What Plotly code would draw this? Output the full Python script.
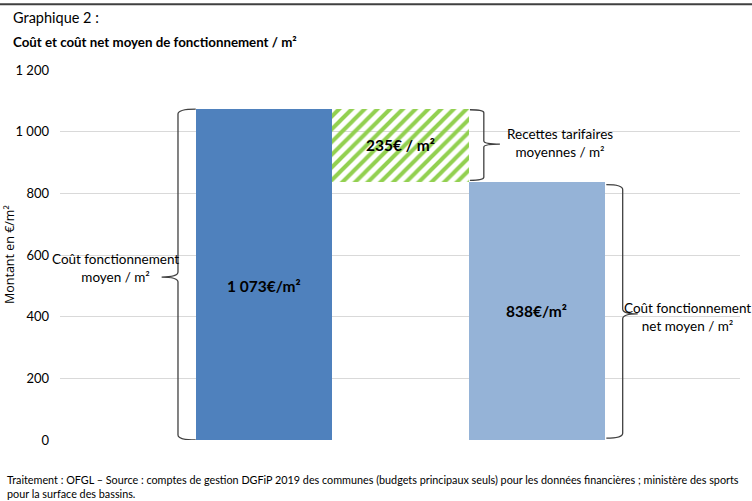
import plotly.graph_objects as go

# ---- data ----
categories = ["Coût fonctionnement moyen", "Recettes tarifaires moyennes", "Coût fonctionnement net moyen"]
values = [1073, 235, 838]
bases = [0, 838, 0]
bar_labels = ["1 073€/m²", "235€ / m²", "838€/m²"]
label_y = [500, 838 + 235 / 2, 838 / 2]
brace_texts = ["Coût fonctionnement<br>moyen / m²",
               "Recettes tarifaires<br>moyennes / m²",
               "Coût fonctionnement<br>net moyen / m²"]
tick_vals = [0, 200, 400, 600, 800, 1000, 1200]
tick_text = ["0", "200", "400", "600", "800", "1 000", "1 200"]

FONT = "Lato, 'Open Sans', sans-serif"
xpos = list(range(len(categories)))

fig = go.Figure()
fig.add_trace(go.Bar(
    x=xpos, y=values, base=bases, width=1,
    marker=dict(
        color=["#4F81BD", "#92D050", "#95B3D7"],
        line=dict(width=0),
        pattern=dict(shape=["", "/", ""], bgcolor="#FFFFFF",
                     size=9, solidity=0.45, fillmode="replace"),
    ),
    hoverinfo="skip", showlegend=False,
))

# bar value labels
for i in range(len(values)):
    fig.add_annotation(x=xpos[i], y=label_y[i], text="<b>" + bar_labels[i] + "</b>",
                       showarrow=False, font=dict(family=FONT, size=15.5, color="#000"))


def brace(xv, xe, xt, y0, y1, ymid, r=16):
    """curly brace: vertical at xv, ends curl to xe, tip at xt"""
    return (f"M {xe},{y1} Q {xv},{y1} {xv},{y1 - r} L {xv},{ymid + r} "
            f"Q {xv},{ymid} {xt},{ymid} Q {xv},{ymid} {xv},{ymid - r} "
            f"L {xv},{y0 + r} Q {xv},{y0} {xe},{y0}")


brace_line = dict(color="#404040", width=1.3)
# left brace on first bar
top0 = bases[0] + values[0]
fig.add_shape(type="path", xref="x", yref="y", line=brace_line,
              path=brace(-0.63, -0.5, -0.75, bases[0], top0, top0 / 2 - 8))
# brace on hatched bar
top1 = bases[1] + values[1]
fig.add_shape(type="path", xref="x", yref="y", line=brace_line,
              path=brace(1.612, 1.51, 1.73, bases[1] + 4, top1 - 2, (bases[1] + top1) / 2 + 4, r=10))
# brace on third bar
top2 = bases[2] + values[2]
fig.add_shape(type="path", xref="x", yref="y", line=brace_line,
              path=brace(2.63, 2.51, 2.74, bases[2] + 6, top2 - 10, top2 / 2 - 10))

# brace texts
fig.add_annotation(x=-1.09, y=top0 / 2 + 20, text=brace_texts[0], showarrow=False,
                   font=dict(family=FONT, size=13.5, color="#000"), align="center")
fig.add_annotation(x=2.17, y=(bases[1] + top1) / 2 + 8, text=brace_texts[1], showarrow=False,
                   font=dict(family=FONT, size=13.5, color="#000"), align="center")
fig.add_annotation(x=3.108, y=top2 / 2 - 20, text=brace_texts[2], showarrow=False,
                   font=dict(family=FONT, size=13.5, color="#000"), align="center")

# titles
fig.add_annotation(xref="paper", yref="paper", x=-0.072, y=1.143, xanchor="left", yanchor="middle",
                   text="Graphique 2 :", showarrow=False,
                   font=dict(family=FONT, size=14.5, color="#000"))
fig.add_annotation(xref="paper", yref="paper", x=-0.072, y=1.076, xanchor="left", yanchor="middle",
                   text="<b>Coût et coût net moyen de fonctionnement / m²</b>", showarrow=False,
                   font=dict(family=FONT, size=13.3, color="#000"))
# y axis title
fig.add_annotation(xref="paper", yref="paper", x=-0.075, y=0.5, xanchor="center", yanchor="middle",
                   text="Montant en €/m²", textangle=-90, showarrow=False,
                   font=dict(family="'Open Sans', sans-serif", size=12.5, color="#000"))
# footer
fig.add_annotation(xref="paper", yref="paper", x=-0.081, y=-0.085, xanchor="left", yanchor="top",
                   align="left", showarrow=False,
                   text=("Traitement : OFGL – Source : comptes de gestion DGFiP 2019 des communes (budgets principaux seuls) "
                         "pour les données financières ; ministère des sports<br>pour la surface des bassins."),
                   font=dict(family=FONT, size=10.8, color="#000"))

# top rule
fig.add_shape(type="line", xref="paper", yref="paper", x0=-0.1, x1=1.02, y0=1.178, y1=1.178,
              line=dict(color="#404040", width=2))

fig.update_layout(
    width=752, height=501,
    margin=dict(l=60, r=12, t=70, b=61),
    paper_bgcolor="white", plot_bgcolor="white",
    bargap=0,
    xaxis=dict(range=[-1.495, 3.49], showticklabels=False, showgrid=False, zeroline=False,
               showline=False, ticks=""),
    yaxis=dict(range=[0, 1200], tickvals=tick_vals, ticktext=tick_text, showgrid=True,
               gridcolor="#D9D9D9", gridwidth=1, zeroline=False, showline=False,
               ticks="", ticklabelstandoff=10,
               tickfont=dict(family=FONT, size=13, color="#000")),
)

fig.write_html("out.html")
